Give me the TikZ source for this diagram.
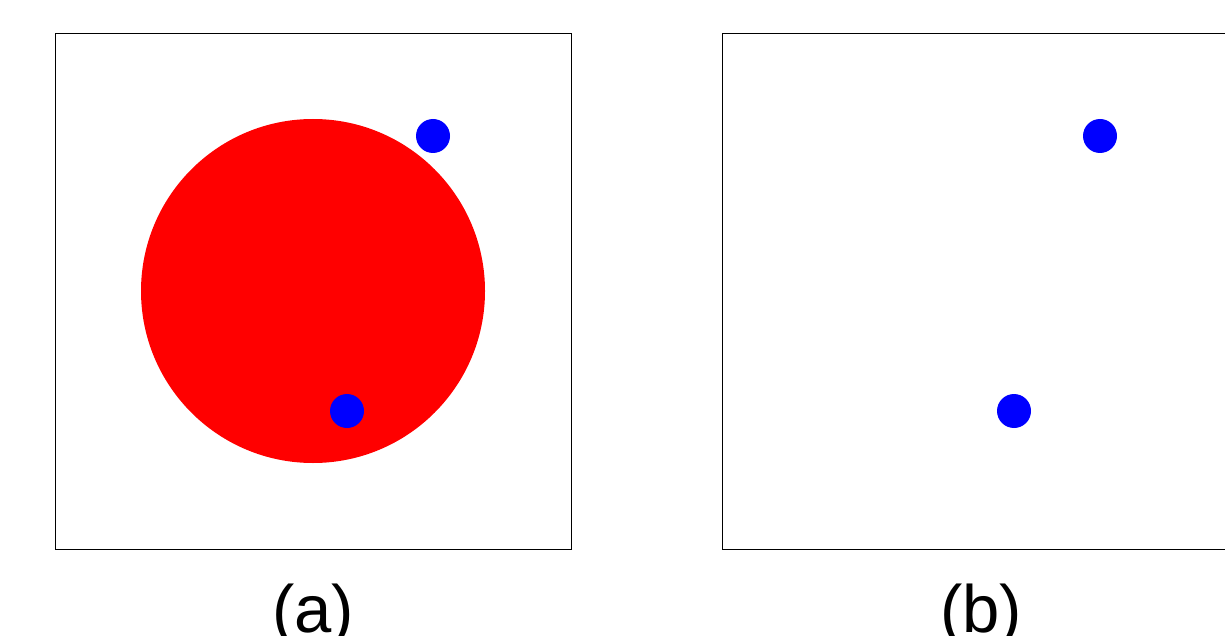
\documentclass[tikz,border=0pt]{standalone}
\usepackage{fontspec}
\setmainfont{Liberation Sans}
\begin{document}
\begin{tikzpicture}[x=1pt,y=-1pt,
  frame/.style={draw=black,line width=1pt},
  bigdot/.style={fill=red},
  smalldot/.style={fill=blue},
  lbl/.style={anchor=base,inner sep=0pt,font=\fontsize{67}{67}\selectfont}]
\useasboundingbox (0,0) rectangle (1225,636);
\draw[frame] (55,34) rectangle (571,549);
\draw[frame] (722,34) rectangle (1238,549);
\fill[bigdot] (313,291) circle (172);
\fill[smalldot] (433,136) circle (17);
\fill[smalldot] (347,411) circle (17);
\fill[smalldot] (1100,136) circle (17);
\fill[smalldot] (1014,411) circle (17);
\node[lbl] (la) at (313,632) {(a)};
\node[lbl] (lb) at (981,632) {(b)};
\end{tikzpicture}
\end{document}
